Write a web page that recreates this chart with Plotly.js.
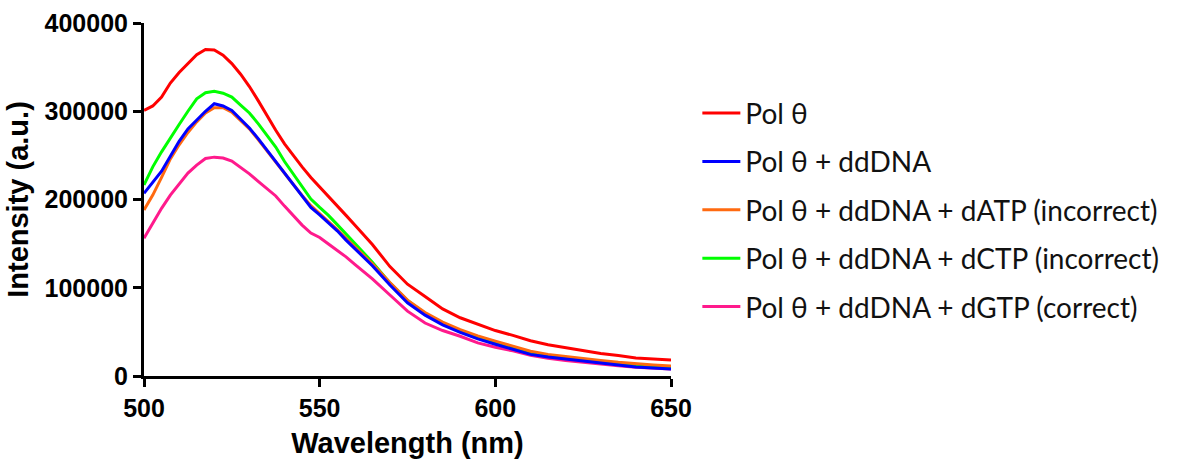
<!DOCTYPE html>
<html>
<head>
<meta charset="utf-8">
<script src="https://cdn.plot.ly/plotly-3.0.1.min.js"></script>
<style>html,body{margin:0;padding:0;background:#fff;}#chart{width:1183px;height:459px;}</style>
</head>
<body>
<div id="chart"></div>
<script>
const wavelength = [500,502.5,505,507.5,510,512.5,515,517.5,520,522.5,525,527.5,530,532.5,535,537.5,540,542.5,545,547.5,550,552.5,555,557.5,560,565,570,575,580,585,590,595,600,605,610,615,620,625,630,635,640,645,650];

const polTheta = [301000,306000,316000,332000,344000,354000,364000,370000,369500,363500,354000,342000,328000,312000,295000,278500,263000,249500,237000,225000,214500,203000,193000,182000,171000,149000,124000,104000,90000,76000,66000,58500,51500,46000,40000,35500,32000,28200,25500,23200,20500,19200,18000];

const polDdDNA = [207000,219000,232000,249000,266000,280000,290000,300000,308500,306000,301000,291000,281000,269000,256000,242500,229000,216500,203000,191000,182500,174000,164500,154000,144500,125000,103100,83000,69000,58000,49500,42000,36000,30500,24500,21500,19200,16600,14000,12000,10200,9000,7900];

const polDATP = [188000,205000,225000,246000,262000,276000,288000,298000,304000,304000,299000,290000,280000,268000,255000,242000,229000,217000,204500,193000,184000,175500,166000,156000,146500,127000,106000,86000,72000,61000,52500,45500,39500,33500,28000,24500,22000,19500,17500,15500,13800,12500,11300];

const polDCTP = [216500,237000,254000,270000,285000,300000,314000,321000,322500,320500,316000,307000,298000,286000,272500,259500,243000,229000,214000,200500,191000,182000,171500,161000,150500,129000,105500,85500,71000,60000,51500,44500,38500,32500,27000,23500,21000,18500,16500,14500,12800,11500,10200];

const polDGTP = [156000,173000,190000,205000,218000,230000,239000,246500,248000,247000,243500,236500,229000,220500,212000,204000,192500,182000,171000,162000,157000,149500,142500,135000,126500,110000,91800,73500,60000,51500,45000,37500,32500,28500,23500,20000,17600,15400,13200,11500,9800,8700,7800];

const seriesNames = ['Pol θ','Pol θ + ddDNA','Pol θ + ddDNA + dATP (incorrect)','Pol θ + ddDNA + dCTP (incorrect)','Pol θ + ddDNA + dGTP (correct)'];
const yTickVals = [0,100000,200000,300000,400000];
const xTickVals = [500,550,600,650];

const colors = ['#ff0000','#0000ff','#ff6a10','#00ff00','#ff1a8c'];
const values = [polTheta, polDdDNA, polDATP, polDCTP, polDGTP];
// draw order: pink, green, orange, blue, red (blue on top of orange)
const drawOrder = [4,3,2,1,0];
const traces = drawOrder.map(i => ({
  x: wavelength, y: values[i], type: 'scatter', mode: 'lines',
  name: seriesNames[i], legendgroup: 'g'+i, legendrank: i+1,
  line: {color: colors[i], width: 3}
}));

const FONT = 'Liberation Sans, Arial, sans-serif';
const layout = {
  width: 1183, height: 459,
  margin: {l:144, r:512, t:23, b:83},
  paper_bgcolor: '#fff', plot_bgcolor: '#fff',
  font: {family: FONT, color: '#000'},
  xaxis: {
    range: [500,650], tickvals: xTickVals, ticktext: xTickVals.map(String),
    showline: true, linecolor: '#000', linewidth: 3,
    ticks: 'outside', ticklen: 8, tickwidth: 3, tickcolor: '#000',
    showgrid: false, zeroline: false,
    tickfont: {family: FONT, size: 25, color: '#000', weight: 'bold'},
    title: {text: '<b>Wavelength (nm)</b>', font: {family: FONT, size: 29, color: '#000'}, standoff: 19}
  },
  yaxis: {
    range: [0,400000], tickvals: yTickVals, ticktext: yTickVals.map(String),
    showline: true, linecolor: '#000', linewidth: 3,
    ticks: 'outside', ticklen: 8, tickwidth: 3, tickcolor: '#000',
    showgrid: false, zeroline: false,
    tickfont: {family: FONT, size: 25, color: '#000', weight: 'bold'},
    title: {text: '<b>Intensity (a.u.)</b>', font: {family: FONT, size: 29, color: '#000'}, standoff: 8}
  },
  legend: {
    x: 1.05, xanchor: 'left', y: 0.815, yanchor: 'top',
    font: {family: 'Lato, Open Sans, sans-serif', size: 28, color: '#111'},
    tracegroupgap: 9, itemwidth: 38, bgcolor: 'rgba(0,0,0,0)'
  },
  showlegend: true
};

Plotly.newPlot('chart', traces, layout, {displayModeBar: false, staticPlot: true});
</script>
</body>
</html>
